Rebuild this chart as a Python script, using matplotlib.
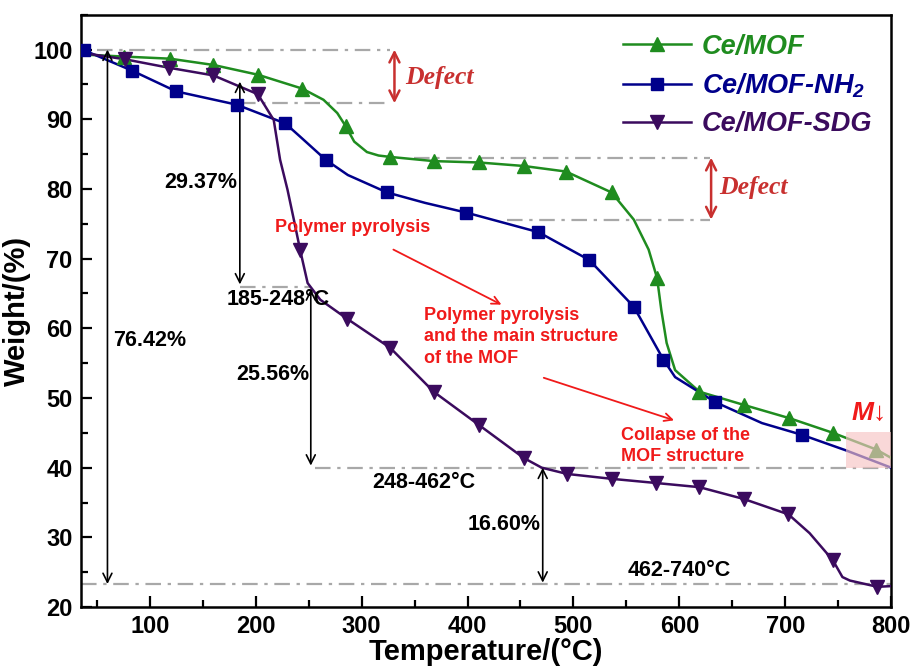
import matplotlib
matplotlib.use("Agg")
import matplotlib.pyplot as plt
import matplotlib.patches as patches
from matplotlib.lines import Line2D
from matplotlib.ticker import MultipleLocator

plt.rcParams['font.family'] = ['Liberation Sans', 'DejaVu Sans']
plt.rcParams['font.weight'] = 'bold'
plt.rcParams['mathtext.fontset'] = 'custom'
plt.rcParams['mathtext.rm'] = 'Liberation Sans:bold:italic'
plt.rcParams['mathtext.it'] = 'Liberation Sans:bold:italic'
plt.rcParams['mathtext.bf'] = 'Liberation Sans:bold:italic'

# curves (temperature in C, weight in %)
mof_x = [36, 76, 119, 160, 202, 244, 264, 277, 285, 293, 305, 316, 327, 368, 411, 453, 493,
         536, 557, 571, 579, 583, 588, 596, 619, 661, 704, 745, 786, 800]
mof_y = [99.3, 99.0, 98.7, 97.8, 96.4, 94.4, 92.8, 90.9, 89.0, 86.8, 85.3, 84.8, 84.6, 84.0, 83.8, 83.3, 82.5,
         79.5, 75.6, 71.3, 67.2, 62.6, 57.9, 54.0, 50.9, 49.0, 47.1, 45.0, 42.6, 41.4]
mof_mx = [76, 119, 160, 202, 244, 285, 327, 368, 411, 453, 493, 536, 579, 619, 661, 704, 745, 786]
mof_my = [99.0, 98.7, 97.8, 96.4, 94.4, 89.0, 84.6, 84.0, 83.8, 83.3, 82.5, 79.5, 67.2, 50.9, 49.0, 47.1, 45.0, 42.6]

nh2_x = [38, 83, 125, 182, 228, 242, 266, 287, 324, 360, 399, 467, 515, 557, 585, 596,
         634, 678, 716, 757, 800]
nh2_y = [99.9, 97.0, 94.0, 92.1, 89.4, 87.5, 84.2, 82.0, 79.5, 78.0, 76.6, 73.8, 69.8, 63.1, 55.5, 53.0,
         49.4, 46.4, 44.7, 42.5, 40.0]
nh2_mx = [38, 83, 125, 182, 228, 266, 324, 399, 467, 515, 557, 585, 634, 716]
nh2_my = [99.9, 97.0, 94.0, 92.1, 89.4, 84.2, 79.5, 76.6, 73.8, 69.8, 63.1, 55.5, 49.4, 44.7]

sdg_x = [38, 77, 118, 160, 202, 217, 223, 230, 236, 242, 249, 261, 286, 327, 368, 411, 453, 470,
         494, 536, 578, 619, 661, 703, 723, 745, 754, 761, 787, 800]
sdg_y = [99.5, 98.6, 97.4, 96.3, 93.6, 89.9, 84.2, 79.9, 75.6, 71.2, 66.5, 64.1, 61.4, 57.2, 50.9, 46.1, 41.4, 40.0,
         39.1, 38.4, 37.8, 37.2, 35.5, 33.3, 30.6, 26.7, 24.3, 23.8, 22.9, 23.0]
sdg_mx = [77, 118, 160, 202, 242, 286, 327, 368, 411, 453, 494, 536, 578, 619, 661, 703, 745, 787]
sdg_my = [98.6, 97.4, 96.3, 93.6, 71.2, 61.4, 57.2, 50.9, 46.1, 41.4, 39.1, 38.4, 37.8, 37.2, 35.5, 33.3, 26.7, 22.9]

c_mof = '#1f8c1f'
c_nh2 = '#00008b'
c_sdg = '#3b0b5e'
c_red = '#f01a1a'
c_def = '#c8302f'
c_gray = '#a8a8a8'

fig = plt.figure(figsize=(9.14, 6.72), dpi=100)
ax = fig.add_subplot(111)
fig.subplots_adjust(left=0.0886, right=0.975, bottom=0.0967, top=0.978)

# reference levels
dash = (0, (7, 3, 1.5, 3))
levels = [(50, 327, 100.0), (185, 327, 92.3), (349, 629, 84.5), (437, 629, 75.6),
          (185, 252, 66.0), (256, 800, 40.0), (35, 800, 23.3)]
for x0, x1, yv in levels:
    ax.plot([x0, x1], [yv, yv], color=c_gray, lw=1.6, ls=dash, zorder=1)

for xs, ys, mxs, mys, c, m, ms in [(mof_x, mof_y, mof_mx, mof_my, c_mof, '^', 10),
                                   (nh2_x, nh2_y, nh2_mx, nh2_my, c_nh2, 's', 8.5),
                                   (sdg_x, sdg_y, sdg_mx, sdg_my, c_sdg, 'v', 10)]:
    ax.plot(xs, ys, color=c, lw=1.8, zorder=3)
    ax.plot(mxs, mys, ls='none', marker=m, ms=ms, color=c, zorder=4)

# pink box for the M arrow
ax.add_patch(patches.Rectangle((757, 40), 45, 5.1, facecolor='#f6c4c4', alpha=0.65,
                               edgecolor='none', zorder=5))
ax.text(779.6, 47.8, 'M↓', color=c_red, fontsize=19, style='italic',
        ha='center', va='center')

# black double arrows with values
blk = dict(arrowstyle='<->', color='black', lw=1.2, mutation_scale=16, shrinkA=0, shrinkB=0)
ax.annotate('', xy=(60, 100), xytext=(60, 23.3), arrowprops=blk)
ax.annotate('', xy=(185, 95.4), xytext=(185, 66.3), arrowprops=blk)
ax.annotate('', xy=(252, 65.6), xytext=(252, 40.3), arrowprops=blk)
ax.annotate('', xy=(471, 40.0), xytext=(471, 23.5), arrowprops=blk)

tk = dict(fontsize=15.5, color='black')
ax.text(65, 58.3, '76.42%', ha='left', va='center', **tk)
ax.text(183, 81.0, '29.37%', ha='right', va='center', **tk)
ax.text(221, 64.1, '185-248°C', ha='center', va='center', **tk)
ax.text(251, 53.4, '25.56%', ha='right', va='center', **tk)
ax.text(359, 37.8, '248-462°C', ha='center', va='center', **tk)
ax.text(469, 31.8, '16.60%', ha='right', va='center', **tk)
ax.text(600, 25.3, '462-740°C', ha='center', va='center', **tk)

# defect arrows
red2 = dict(arrowstyle='<->', color=c_def, lw=1.8, mutation_scale=18, shrinkA=0, shrinkB=0)
ax.annotate('', xy=(331, 100), xytext=(331, 92.3), arrowprops=red2)
ax.annotate('', xy=(630, 84.5), xytext=(630, 75.6), arrowprops=red2)
ax.text(341.5, 96.0, 'Defect', family='Liberation Serif', style='italic', fontsize=18.5,
        color=c_def, ha='left', va='center')
ax.text(637.5, 80.2, 'Defect', family='Liberation Serif', style='italic', fontsize=18.5,
        color=c_def, ha='left', va='center')

# red stage notes
rt = dict(fontsize=13, color=c_red, ha='left', va='center', linespacing=1.35)
ax.text(218.5, 74.4, 'Polymer pyrolysis', **rt)
ax.text(359, 58.8, 'Polymer pyrolysis\nand the main structure\nof the MOF', **rt)
ax.text(544.5, 43.1, 'Collapse of the\nMOF structure', **rt)
ra = dict(arrowstyle='->', color=c_red, lw=1.3, mutation_scale=14, shrinkA=0, shrinkB=0)
ax.annotate('', xy=(432, 63.4), xytext=(330, 71.3), arrowprops=ra)
ax.annotate('', xy=(595, 46.8), xytext=(472, 52.9), arrowprops=ra)

ax.set_xlim(35, 800)
ax.set_ylim(20, 105)
ax.xaxis.set_major_locator(MultipleLocator(100))
ax.xaxis.set_minor_locator(MultipleLocator(50))
ax.yaxis.set_major_locator(MultipleLocator(10))
ax.yaxis.set_minor_locator(MultipleLocator(5))
ax.tick_params(which='both', direction='in', width=1.6, labelsize=17)
ax.tick_params(which='major', length=8, pad=6)
ax.tick_params(which='minor', length=5)
for s in ax.spines.values():
    s.set_linewidth(1.8)
ax.set_xlabel('Temperature/(°C)', fontsize=21, fontweight='bold', labelpad=0)
ax.set_ylabel('Weight/(%)', fontsize=21, fontweight='bold', labelpad=2)

handles = [Line2D([], [], color=c_mof, lw=1.8, marker='^', ms=10),
           Line2D([], [], color=c_nh2, lw=1.8, marker='s', ms=8.5),
           Line2D([], [], color=c_sdg, lw=1.8, marker='v', ms=10)]
labels = ['Ce/MOF', 'Ce/MOF-NH$_{2}$', 'Ce/MOF-SDG']
leg = ax.legend(handles, labels, loc='upper right', bbox_to_anchor=(1.0, 1.0), frameon=False,
                handlelength=2.5, handletextpad=0.4, labelspacing=0.42, borderaxespad=0.3,
                prop={'style': 'italic', 'weight': 'bold', 'size': 19.5})
for t, c in zip(leg.get_texts(), [c_mof, c_nh2, c_sdg]):
    t.set_color(c)

fig.savefig('out.png', dpi=100)
